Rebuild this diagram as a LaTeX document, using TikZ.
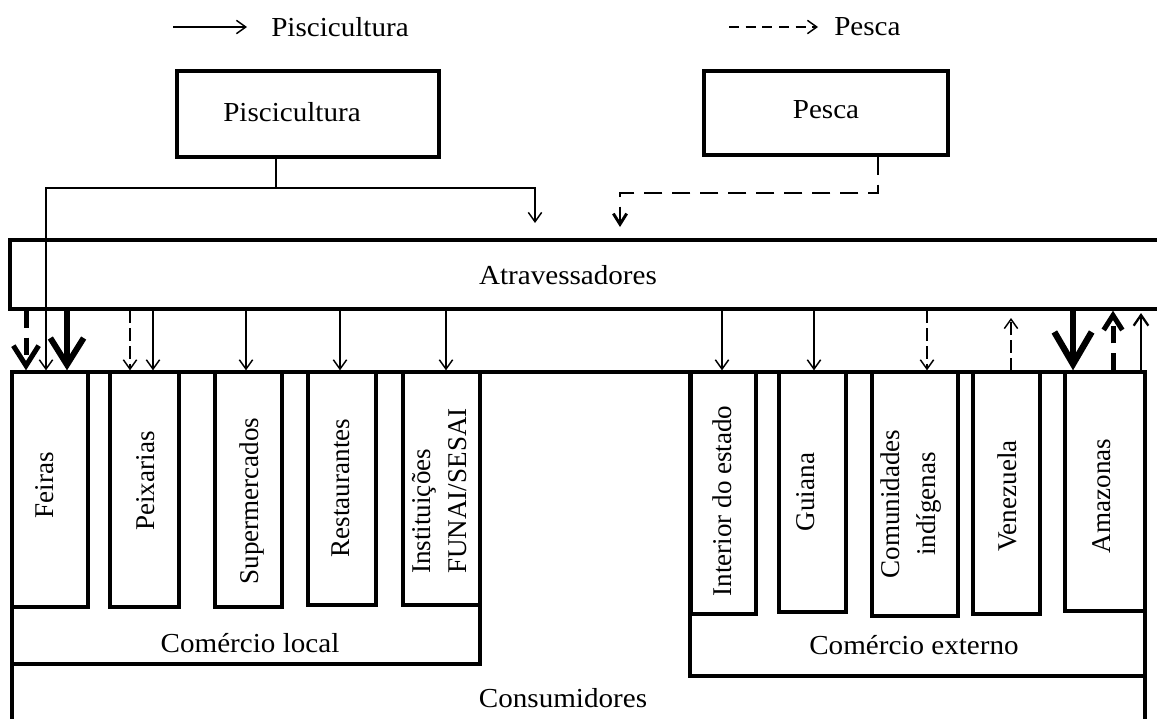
\documentclass[tikz,border=0pt]{standalone}
\usepackage{fontspec}
\setmainfont{Liberation Serif}
\newfontfamily\hfont[FakeStretch=1.06]{Liberation Serif}
\usetikzlibrary{arrows.meta,fit}
\tikzset{
  box/.style={draw, line width=2.5pt, inner sep=0pt},
  htxt/.style={inner sep=0pt, font=\hfont\fontsize{20.6}{26}\selectfont},
  vtxt/.style={inner sep=0pt, rotate=90, font=\fontsize{20.3}{27}\selectfont},
  thinln/.style={line width=1.1pt},
  thinarr/.style={line width=1.1pt, -{Straight Barb[length=7pt,width=10pt]}},
  thindash/.style={thinarr, dash pattern=on 9.5pt off 3.75pt},
  legdash/.style={thinarr, dash pattern=on 7.5pt off 5pt},
  topdash/.style={line width=2.2pt, dash pattern=on 13.5pt off 7.5pt, -{Straight Barb[length=8pt,width=10pt]}},
  thickarr/.style={line width=4.5pt, -{Straight Barb[length=20pt,width=25pt]}},
  thickarrB/.style={line width=4.8pt, -{Straight Barb[length=24pt,width=28pt]}},
  thickdash/.style={line width=3.75pt, dash pattern=on 12.75pt off 7.5pt, -{Straight Barb[length=15pt,width=19pt]}},
  thickdashB/.style={line width=3.75pt, dash pattern=on 12.75pt off 7.5pt, -{Straight Barb[length=11pt,width=14pt]}},
  medarr/.style={line width=1.7pt, -{Straight Barb[length=8pt,width=11pt]}}
}
\begin{document}
\begin{tikzpicture}[x=0.75pt,y=-0.75pt]
\useasboundingbox (0,0) rectangle (1157,718);

% legend
\node[htxt, anchor=west] (leg1) at (271,27) {Piscicultura};
\node[htxt, anchor=west] (leg2) at (834,27) {Pesca};
\coordinate (l1s) at (173,27);
\coordinate (l2s) at (729,27);
\draw[thinarr] (l1s) -- ([xshift=-18pt]leg1.west);
\draw[legdash] (l2s) -- ([xshift=-12pt]leg2.west);

% source boxes
\node[box, fit={(177,71) (439,157)}] (pisc) {};
\node[htxt] (pisct) at (292,112) {Piscicultura};
\node[box, fit={(704,71) (948,155)}] (pesca) {};
\node[htxt] (pescat) at (826,110) {Pesca};

% Atravessadores
\node[box, fit={(10,240) (1175,309)}] (atrav) {};
\node[htxt] (atravt) at (568,275) {Atravessadores};

% Consumers
\node[box, fit={(12,372) (1145,740)}] (cons) {};
\node[htxt] (const) at (563,698) {Consumidores};
\node[box, fit={(12,372) (480,664)}] (local) {};
\node[htxt] (localt) at (250,643) {Comércio local};
\node[box, fit={(690,372) (1145,676)}] (ext) {};
\node[htxt] (extt) at (914,645) {Comércio externo};

% inner boxes
\node[box, fit={(12,372) (88,607)}] (feiras) {};
\node[box, fit={(110,372) (179,607)}] (peix) {};
\node[box, fit={(215,372) (282,607)}] (super) {};
\node[box, fit={(308,372) (376,605)}] (rest) {};
\node[box, fit={(403,372) (480,605)}] (inst) {};
\node[box, fit={(691,372) (756,614)}] (inter) {};
\node[box, fit={(779,372) (846,612)}] (guiana) {};
\node[box, fit={(872,372) (958,616)}] (comun) {};
\node[box, fit={(973,372) (1040,614)}] (venez) {};
\node[box, fit={(1065,372) (1145,611)}] (amaz) {};

\node[vtxt] (feirast) at (45,485) {Feiras};
\node[vtxt] (peixt) at (146,481) {Peixarias};
\node[vtxt] (supert) at (252,501) {Supermercados};
\node[vtxt] (restt) at (341,488) {Restaurantes};
\node[vtxt, align=left] (instt) at (440,491) {Instituições\\FUNAI/SESAI};
\node[vtxt] (intert) at (722,501) {Interior do estado};
\node[vtxt] (guianat) at (806,492) {Guiana};
\node[vtxt, align=center] (comunt) at (911,504) {Comunidades\\indígenas};
\node[vtxt] (venezt) at (1007,496) {Venezuela};
\node[vtxt] (amazt) at (1102,496) {Amazonas};

% connectors from sources
\coordinate (jn) at (276,188);
\coordinate (fx) at (46,0);
\coordinate (a1) at (535,223);
\coordinate (pj) at (878,193);
\coordinate (a2) at (620,227);
\draw[thinln] (pisc.south -| jn) -- (jn);
\draw[thinarr] (jn) -| (feiras.north -| fx);
\draw[thinarr] (jn) -| (a1);
\draw[topdash] (pesca.south -| pj) -- (pj) -| (a2);

% Atravessadores -> local
\draw[thickdash] (atrav.south -| 26,0) -- (feiras.north -| 26,0);
\draw[thickarr] (atrav.south -| 67,0) -- (feiras.north -| 67,0);
\draw[thindash] (atrav.south -| 130,0) -- (peix.north -| 130,0);
\draw[thinarr] (atrav.south -| 153,0) -- (peix.north -| 153,0);
\draw[thinarr] (atrav.south -| 246,0) -- (super.north -| 246,0);
\draw[thinarr] (atrav.south -| 340,0) -- (rest.north -| 340,0);
\draw[thinarr] (atrav.south -| 446,0) -- (inst.north -| 446,0);

% Atravessadores <-> external
\draw[thinarr] (atrav.south -| 722,0) -- (inter.north -| 722,0);
\draw[thinarr] (atrav.south -| 814,0) -- (guiana.north -| 814,0);
\draw[thindash] (atrav.south -| 927,0) -- (comun.north -| 927,0);
\draw[thindash] (venez.north -| 1011,0) -- (1011,318);
\draw[thickarrB] (atrav.south -| 1073,0) -- (amaz.north -| 1073,0);
\draw[thickdashB] (amaz.north -| 1113,0) -- (atrav.south -| 1113,0);
\draw[medarr] (amaz.north -| 1141,0) -- (1141,313);
\end{tikzpicture}
\end{document}
